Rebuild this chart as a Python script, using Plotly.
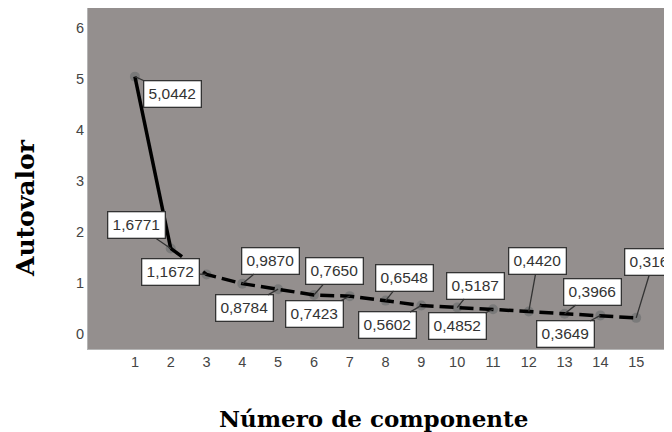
import plotly.graph_objects as go

componentes = list(range(1, 16))
autovalores = [5.0442, 1.6771, 1.1672, 0.9870, 0.8784, 0.7650, 0.7423, 0.6548,
               0.5602, 0.5187, 0.4852, 0.4420, 0.3966, 0.3649, 0.3163]
etiquetas = ["5,0442", "1,6771", "1,1672", "0,9870", "0,8784", "0,7650", "0,7423",
             "0,6548", "0,5602", "0,5187", "0,4852", "0,4420", "0,3966", "0,3649", "0,3163"]
y_ticks = [0, 1, 2, 3, 4, 5, 6]

# label box offsets (pixels) relative to each point
offsets = [(38, 17), (-34, -23), (-36, -2), (28, -23), (-34, 19), (21, -24), (-35, 18),
           (19, -23), (-34, 20), (18, -22), (-35, 17), (9, -50), (28, -22), (-35, 19), (17, -56)]

# page body has an 8px margin; plot area targets screen x 88-672, y 8-349
PL, PR, PT, PB = 88, 672, 8, 349
PW, PH = PR - PL, PB - PT

fig = go.Figure()
fig.add_trace(go.Scatter(x=componentes, y=autovalores, mode="markers",
                         marker=dict(color="#7a7a7a", size=10), showlegend=False))
fig.add_trace(go.Scatter(x=componentes[:2], y=autovalores[:2], mode="lines",
                         line=dict(color="black", width=3.5), showlegend=False))
fig.add_trace(go.Scatter(x=componentes[1:], y=autovalores[1:], mode="lines",
                         line=dict(color="black", width=3.5, dash="14px,6px"), showlegend=False))

for xv, yv, t, (ax, ay) in zip(componentes, autovalores, etiquetas, offsets):
    fig.add_annotation(x=xv, y=yv, text=t, showarrow=True, ax=ax, ay=ay,
                       arrowhead=0, arrowwidth=1.3, arrowcolor="#333333",
                       bgcolor="white", bordercolor="#333333", borderwidth=1.3,
                       borderpad=2, width=52, height=21,
                       font=dict(family="Liberation Sans, Arial", size=15.5, color="#333333"))

fig.add_annotation(xref="paper", yref="paper", x=(373 - PL) / PW, y=-(418 - PB) / PH,
                   text="<b>Número de componente</b>", showarrow=False,
                   font=dict(family="DejaVu Serif", size=23, color="black"),
                   xanchor="center", yanchor="middle")
fig.add_annotation(xref="paper", yref="paper", x=-(PL - 26) / PW, y=(PB - 208) / PH,
                   text="<b>Autovalor</b>", showarrow=False, textangle=-90,
                   font=dict(family="DejaVu Serif", size=25, color="black"),
                   xanchor="center", yanchor="middle")

fig.update_layout(
    width=664, height=424,
    margin=dict(l=PL - 8, r=0, t=PT - 8, b=432 - PB, pad=0),
    paper_bgcolor="white", plot_bgcolor="#948f8e",
    font=dict(family="Liberation Sans, Arial", size=14, color="#444444"),
    showlegend=False,
)
fig.update_xaxes(range=[-0.31, 16.0], tickvals=componentes, showgrid=False, zeroline=False,
                 showline=True, linecolor="#b5b5b5", linewidth=1, mirror=True, ticks="",
                 tickfont=dict(size=14.5, color="#444444"))
fig.update_yaxes(range=[-0.294, 6.39], tickvals=y_ticks, showgrid=False, zeroline=False,
                 showline=True, linecolor="#b5b5b5", linewidth=1, mirror=True, ticks="",
                 tickfont=dict(size=14.5, color="#444444"))

fig.write_html("out.html")
